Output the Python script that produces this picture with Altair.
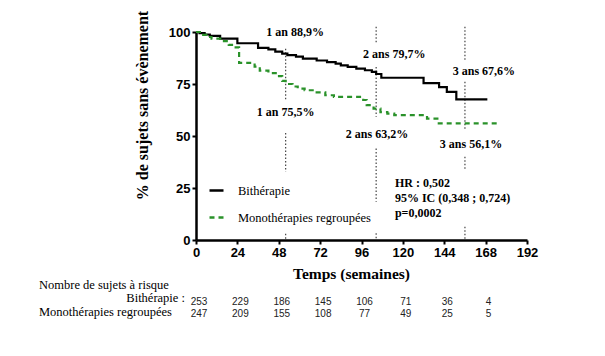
import altair as alt
import pandas as pd

# ---- Kaplan-Meier curves (weeks, % event-free) ----
series = ["Bithérapie", "Monothérapies regroupées"]

bi_t = [0, 2, 5, 8, 14, 24, 36, 42, 46, 50, 53, 58, 62, 70, 76, 81, 84, 88, 93, 98,
        102, 104.5, 107.5, 132, 141, 145.5, 151, 169]
bi_s = [100, 99.5, 98.8, 98.1, 96.8, 94.6, 92.4, 91.6, 90.6, 89.6, 88.9, 88.2, 87.2,
        86.3, 85.5, 84.8, 84.0, 83.2, 82.4, 81.6, 80.8, 79.8, 78.0, 75.4, 73.5, 71.2,
        67.6, 67.6]

mo_t = [0, 3, 6, 9, 15, 19, 23, 25, 34, 37, 42, 47, 50, 52, 56, 59, 63, 70, 75, 80,
        97, 99, 103, 107, 111, 115, 134, 140, 176]
mo_s = [100, 98.6, 97.6, 96.8, 95.6, 93.8, 92.6, 85.2, 83.4, 81.4, 80.2, 78.8, 76.5,
        75.0, 73.8, 72.8, 72.0, 71.0, 69.6, 68.8, 67.3, 64.8, 63.2, 61.5, 60.8, 60.0,
        58.4, 56.1, 56.1]

x_ticks = [0, 24, 48, 72, 96, 120, 144, 168, 192]
y_ticks = [0, 25, 50, 75, 100]

# ---- annotations ----
ann_text = ["1 an 88,9%", "1 an 75,5%", "2 ans 79,7%", "2 ans 63,2%", "3 ans 67,6%", "3 ans 56,1%"]
ann_x = [57.5, 52, 115, 105, 167, 159.5]
ann_y = [100, 61.3, 89.6, 51.2, 81.3, 46]

dot_x = [52, 52, 52, 104.5, 104.5, 104.5, 104.5, 156, 156, 156, 156]
dot_y1 = [92, 51.5, 3, 102.5, 83.2, 44, 3.3, 102.5, 76.1, 40, 6.4]
dot_y2 = [67, 32.8, 0, 94.4, 59.2, 18.4, 0, 85.7, 52.9, 33.5, 0]

hr_text = ["HR : 0,502", "95% IC (0,348 ; 0,724)", "p=0,0002"]
hr_x = [115.4, 115.4, 115.4]
hr_y = [27.5, 20.0, 13.1]

# ---- number at risk ----
risk_t = [0, 24, 48, 72, 96, 120, 144, 168]
risk_bi = [253, 229, 186, 145, 106, 71, 36, 4]
risk_mo = [247, 209, 155, 108, 77, 49, 25, 5]

SERIF = "'Liberation Serif', 'Times New Roman', Times, serif"
SANS = "'Liberation Sans', Arial, sans-serif"

df_curve = pd.DataFrame({
    "t": bi_t + mo_t,
    "s": bi_s + mo_s,
    "series": [series[0]] * len(bi_t) + [series[1]] * len(mo_t),
})
df_ann = pd.DataFrame({"t": ann_x, "s": ann_y, "label": ann_text})
df_dot = pd.DataFrame({"t": dot_x, "s": dot_y1, "s2": dot_y2})
df_hr = pd.DataFrame({"t": hr_x, "s": hr_y, "label": hr_text})
df_rbi = pd.DataFrame({"t": risk_t, "n": risk_bi})
df_rmo = pd.DataFrame({"t": risk_t, "n": risk_mo})

x_scale = alt.Scale(domain=[0, 192], nice=False)
y_scale = alt.Scale(domain=[0, 100], nice=False)

leg = alt.Legend(
    orient="none", legendX=12, legendY=150, symbolType="stroke", symbolSize=196,
    symbolStrokeWidth=2.5, labelFont=SERIF, labelFontSize=12.5,
    labelColor="black", labelOffset=13, rowPadding=12,
)

curves = alt.Chart(df_curve).mark_line(interpolate="step-after", strokeWidth=2.2).encode(
    x=alt.X("t:Q", scale=x_scale, axis=alt.Axis(
        values=x_ticks, title="Temps (semaines)", titleFontSize=15.5, labelFlush=False,
        titleX=155, titleY=33, titleBaseline="middle", titleAlign="center")),
    y=alt.Y("s:Q", scale=y_scale, axis=alt.Axis(
        values=y_ticks, title="% de sujets sans évènement", titleFontSize=16, labelFlush=False,
        titleX=-54, titleY=73, titleBaseline="middle", titleAlign="center", titleAngle=270)),
    color=alt.Color("series:N", title=None,
                    scale=alt.Scale(domain=series, range=["#000000", "#2a922a"]), legend=leg),
    strokeDash=alt.StrokeDash("series:N", title=None,
                              scale=alt.Scale(domain=series, range=[[1, 0], [5, 4]]), legend=leg),
)

dots = alt.Chart(df_dot).mark_rule(strokeDash=[1.5, 2], strokeWidth=1.2, color="#444").encode(
    x=alt.X("t:Q", scale=x_scale), y=alt.Y("s:Q", scale=y_scale), y2="s2:Q")

ann = alt.Chart(df_ann).mark_text(
    font=SERIF, fontWeight="bold", fontSize=12, color="black",
    align="center", baseline="middle").encode(
    x=alt.X("t:Q", scale=x_scale), y=alt.Y("s:Q", scale=y_scale), text="label:N")

hr = alt.Chart(df_hr).mark_text(
    font=SERIF, fontWeight="bold", fontSize=12, color="black",
    align="left", baseline="middle").encode(
    x=alt.X("t:Q", scale=x_scale), y=alt.Y("s:Q", scale=y_scale), text="label:N")

num_style = dict(font=SANS, fontSize=10, color="#222", align="center",
                 baseline="middle", dx=3)
rbi = alt.Chart(df_rbi).mark_text(**num_style).encode(
    x=alt.X("t:Q", scale=x_scale), y=alt.value(269.7), text="n:Q")
rmo = alt.Chart(df_rmo).mark_text(**num_style).encode(
    x=alt.X("t:Q", scale=x_scale), y=alt.value(282.3), text="n:Q")

lab_style = dict(font=SERIF, fontSize=12.5, color="black", baseline="middle")
df_l1 = pd.DataFrame({"label": ["Nombre de sujets à risque"]})
df_l2 = pd.DataFrame({"label": ["Bithérapie :"]})
df_l3 = pd.DataFrame({"label": ["Monothérapies regroupées"]})
l1 = alt.Chart(df_l1).mark_text(align="left", **lab_style).encode(
    x=alt.value(-157), y=alt.value(253), text="label:N")
l2 = alt.Chart(df_l2).mark_text(align="right", **lab_style).encode(
    x=alt.value(-11), y=alt.value(266), text="label:N")
l3 = alt.Chart(df_l3).mark_text(align="left", **lab_style).encode(
    x=alt.value(-157), y=alt.value(279.7), text="label:N")

chart = alt.layer(dots, curves, ann, hr, rbi, rmo, l1, l2, l3).properties(
    width=331, height=208,
    autosize=alt.AutoSizeParams(type="none"),
    padding={"left": 188, "top": 24, "right": 60, "bottom": 100},
).configure_view(stroke=None).configure_axis(
    grid=False, domainColor="black", domainWidth=2.5, tickColor="black", tickWidth=2,
    tickSize=4, labelFont=SANS, labelFontWeight="bold", labelFontSize=13,
    labelColor="black", labelPadding=2, titleFont=SERIF,
    titleFontWeight="bold", titleColor="black",
)

chart.save("out.html", embed_options={"renderer": "svg", "actions": False})
